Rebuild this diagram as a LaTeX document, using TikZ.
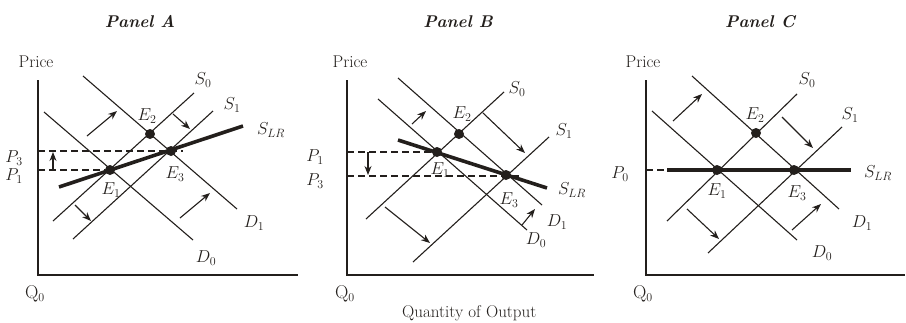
\documentclass[tikz,border=0pt]{standalone}
\usepackage{fontspec}
\usepackage{amsmath}
\usepackage{amssymb}
\usetikzlibrary{arrows.meta}

\definecolor{ink}{RGB}{35,31,28}

\begin{document}
\begin{tikzpicture}[x=1pt, y=-1pt, ink,
    curve/.style={line width=1.1pt},
    lrcurve/.style={line width=3.6pt},
    axisline/.style={line width=1.4pt},
    shiftarr/.style={line width=1.1pt, -{Stealth[length=9pt, width=7pt]}},
    guide/.style={line width=1.1pt, dash pattern=on 7pt off 4pt},
    eq/.style={circle, fill=ink, inner sep=0pt, minimum size=10pt},
    lbl/.style={inner sep=0pt, font=\fontsize{18.5}{20}\selectfont},
    txt/.style={inner sep=0pt, font=\fontsize{17}{19}\selectfont},
    ttl/.style={inner sep=0pt, font=\fontsize{17}{19}\selectfont\bfseries\itshape}]
    \useasboundingbox (0,0) rectangle (906,322);

    % Panel A
    \node[ttl] (ttlA) at (140,22) {Panel A};
    \node[txt] (priceA) at (36,62) {Price};
    \node[lbl] (qA) at (35,294) {$\mathrm{Q}_0$};
    \draw[axisline] (38,80) -- (38,275) -- (298,275);
    \node[eq] (e1A) at (110,170) {};
    \node[eq] (e2A) at (150,134) {};
    \node[eq] (e3A) at (171,151) {};
    \draw[guide] (38,151) -- (183,151);
    \draw[guide] (38,170) -- (e1A);
    \draw[shiftarr] (53,170) -- (53,152);
    \draw[curve] (44,112) -- (193,240);
    \draw[curve] (83,76) -- (237,209);
    \draw[curve] (53,221) -- (194,93);
    \draw[curve] (73,239) -- (213,111);
    \draw[lrcurve] (59,187) -- (243,126);
    \draw[shiftarr] (87,136) -- (117,111);
    \draw[shiftarr] (173,114) -- (190,129);
    \draw[shiftarr] (75,205) -- (91,221);
    \draw[shiftarr] (180,218) -- (210,193);
    \node[lbl] (p3A) at (14,158) {$P_3$};
    \node[lbl] (p1A) at (14,176) {$P_1$};
    \node[lbl] (s0A) at (203,80) {$S_0$};
    \node[lbl] (s1A) at (232,105) {$S_1$};
    \node[lbl] (slrA) at (271,130) {$S_{LR}$};
    \node[lbl] (d1A) at (254,223) {$D_1$};
    \node[lbl] (d0A) at (206,258) {$D_0$};
    \node[lbl] (l1A) at (111,190) {$E_1$};
    \node[lbl] (l2A) at (147,116) {$E_2$};
    \node[lbl] (l3A) at (175,174) {$E_3$};

    % Panel B
    \node[ttl] (ttlB) at (458,22) {Panel B};
    \node[txt] (priceB) at (350,62) {Price};
    \node[lbl] (qB) at (345,294) {$\mathrm{Q}_0$};
    \node[txt, anchor=west] (qty) at (402,313) {Quantity of Output};
    \draw[axisline] (347,80) -- (347,275) -- (594,275);
    \node[eq] (e1B) at (437,152) {};
    \node[eq] (e2B) at (459,134) {};
    \node[eq] (e3B) at (506,175) {};
    \draw[guide] (347,152) -- (e1B);
    \draw[guide] (347,176) -- (520,176);
    \draw[shiftarr] (368,152) -- (368,175);
    \draw[curve] (378,99) -- (527,230);
    \draw[curve] (398,78) -- (542,205);
    \draw[curve] (366,219) -- (504,92);
    \draw[curve] (413,262) -- (549,137);
    \draw[lrcurve] (398,140) -- (547,188);
    \draw[shiftarr] (412,124) -- (426,111);
    \draw[shiftarr] (483,113) -- (525,153);
    \draw[shiftarr] (385,207) -- (430,243);
    \draw[shiftarr] (522,225) -- (535,209);
    \node[lbl] (p1B) at (315,157) {$P_1$};
    \node[lbl] (p3B) at (315,181) {$P_3$};
    \node[lbl] (s0B) at (517,89) {$S_0$};
    \node[lbl] (s1B) at (564,131) {$S_1$};
    \node[lbl] (slrB) at (572,190) {$S_{LR}$};
    \node[lbl] (d1B) at (557,222) {$D_1$};
    \node[lbl] (d0B) at (536,240) {$D_0$};
    \node[lbl] (l1B) at (440,170) {$E_1$};
    \node[lbl] (l2B) at (462,114) {$E_2$};
    \node[lbl] (l3B) at (509,200) {$E_3$};

    % Panel C
    \node[ttl] (ttlC) at (760,22) {Panel C};
    \node[txt] (priceC) at (643,62) {Price};
    \node[lbl] (qC) at (643,294) {$\mathrm{Q}_0$};
    \draw[axisline] (646,80) -- (646,275) -- (905,275);
    \node[eq] (e1C) at (717,170) {};
    \node[eq] (e2C) at (756,133) {};
    \node[eq] (e3C) at (794,170) {};
    \draw[guide] (646,170) -- (e1C);
    \draw[curve] (652,111) -- (797,240);
    \draw[curve] (692,76) -- (839,209);
    \draw[curve] (667,221) -- (797,94);
    \draw[curve] (708,253) -- (842,127);
    \draw[lrcurve] (667,170) -- (851,170);
    \draw[shiftarr] (673,121) -- (702,94);
    \draw[shiftarr] (782,117) -- (813,148);
    \draw[shiftarr] (687,209) -- (719,239);
    \draw[shiftarr] (792,230) -- (821,204);
    \node[lbl] (p0C) at (620,174) {$P_0$};
    \node[lbl] (s0C) at (807,80) {$S_0$};
    \node[lbl] (s1C) at (850,115) {$S_1$};
    \node[lbl] (slrC) at (878,173) {$S_{LR}$};
    \node[lbl] (d1C) at (862,223) {$D_1$};
    \node[lbl] (d0C) at (822,253) {$D_0$};
    \node[lbl] (l1C) at (717,191) {$E_1$};
    \node[lbl] (l2C) at (755,115) {$E_2$};
    \node[lbl] (l3C) at (797,193) {$E_3$};
\end{tikzpicture}
\end{document}
